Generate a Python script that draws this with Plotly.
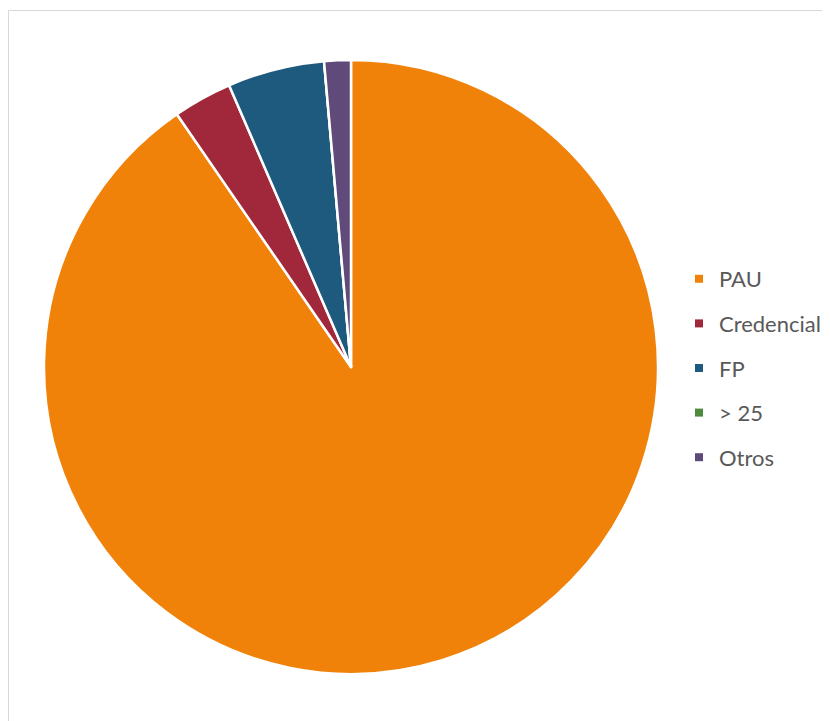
import plotly.graph_objects as go

labels = ["PAU", "Credencial", "FP", "> 25", "Otros"]
values = [90.4, 3.1, 5.1, 0.0, 1.4]
colors = ["#F0820A", "#A0283A", "#1E5A7D", "#4E8A3E", "#5F4A7A"]

W, H = 830, 721
off = 8  # page body margin
cx, cy, r = 351 - off, 367 - off, 307

fig = go.Figure()
fig.add_trace(go.Pie(
    labels=labels, values=values, sort=False, direction="clockwise", rotation=0,
    marker=dict(colors=colors, line=dict(color="white", width=2.5)),
    textinfo="none", hoverinfo="label+percent", showlegend=False,
    domain=dict(x=[(cx - r) / W, (cx + r) / W], y=[(H - cy - r) / H, (H - cy + r) / H]),
))
for i, (lab, col) in enumerate(zip(labels, colors)):
    fig.add_trace(go.Scatter(
        x=[None], y=[None], mode="markers", name=lab, legendgroup=f"g{i}",
        marker=dict(symbol="square", size=8, color=col), showlegend=True,
    ))

fig.update_layout(
    width=W, height=H, margin=dict(l=0, r=0, t=0, b=0),
    paper_bgcolor="white", plot_bgcolor="white",
    xaxis=dict(visible=False), yaxis=dict(visible=False),
    legend=dict(x=(682 - off - 3) / W, y=1 - (262 - off - 4) / H, xanchor="left", yanchor="top",
                font=dict(family="Lato, Open Sans, sans-serif", size=22, color="#595959"),
                tracegroupgap=13, itemwidth=30, bgcolor="rgba(0,0,0,0)"),
    shapes=[dict(type="rect", xref="paper", yref="paper",
                 x0=0.5 / W, x1=1.02, y0=-0.02, y1=1 - 2.5 / H,
                 line=dict(color="#D9D9D9", width=1), fillcolor="rgba(0,0,0,0)")],
)
fig.write_html("out.html")
